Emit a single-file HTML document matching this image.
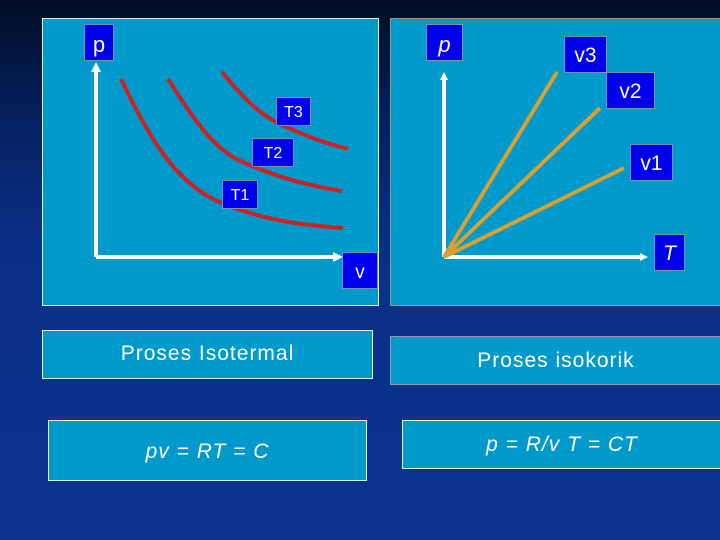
<!DOCTYPE html>
<html><head><style>
body{margin:0;width:720px;height:540px;overflow:hidden;background:linear-gradient(180deg,#020d24 0%,#061f5c 20%,#0a2f86 45%,#0b3390 100%);font-family:"Liberation Sans",sans-serif;position:relative}
.b{position:absolute;box-sizing:border-box}
.lab{background:#0000ee;color:#fff;border:1px solid #7f8fb0;font-size:19px;text-align:center;box-sizing:border-box;position:absolute}
.box{position:absolute;box-sizing:border-box;background:#0099cc;border:1.5px solid #e8f0ff;color:#fff;font-size:21px;text-align:center;letter-spacing:1px}
</style></head><body>
<div class="b" style="left:42px;top:18px;width:337px;height:288px;background:#0099cc;border:1.5px solid #e6eef5"></div>
<div class="b" style="left:390px;top:18px;width:332px;height:288px;background:#0099cc;border:1.5px solid #9a9a80"></div>
<svg width="720" height="540" style="position:absolute;left:0;top:0">
<g stroke="#fff" stroke-width="4" fill="none"><path d="M96 257 V70 M96 257 H334"/><path d="M444 257 V78 M444 257 H640"/></g>
<g fill="#fff"><path d="M96 62 L91 72 H101Z"/><path d="M343 257 L333 252 V262Z"/><path d="M444 72 L440 80 H448Z"/><path d="M648 257 L640 253 V261Z"/></g>
<g stroke="#cc2222" stroke-width="4" fill="none">
<path d="M121 79 C150 140 175 180 215 200 C260 220 300 225 343 228"/>
<path d="M168 79 C200 130 220 155 250 165 C280 178 310 186 342 191"/>
<path d="M222 72 C245 100 260 115 282 125 C305 136 325 143 348 149"/>
</g>
<g stroke="#d9a030" stroke-width="4"><path d="M444 257 L557 72"/><path d="M444 257 L600 108"/><path d="M444 257 L624 168"/></g>
</svg>
<div class="lab" style="left:84px;top:24px;width:30px;height:37px;line-height:40px;font-size:22px">p</div>
<div class="lab" style="left:276px;top:97px;width:35px;height:29px;line-height:29px;font-size:16px">T3</div>
<div class="lab" style="left:252px;top:138px;width:42px;height:29px;line-height:29px;font-size:16px">T2</div>
<div class="lab" style="left:222px;top:180px;width:36px;height:29px;line-height:29px;font-size:16px">T1</div>
<div class="lab" style="left:342px;top:252px;width:36px;height:37px;line-height:40px;font-size:19px">v</div>
<div class="lab" style="left:426px;top:24px;width:37px;height:37px;line-height:40px;font-size:22px;font-style:italic">p</div>
<div class="lab" style="left:564px;top:36px;width:43px;height:37px;line-height:37px;font-size:21px">v3</div>
<div class="lab" style="left:606px;top:72px;width:49px;height:37px;line-height:37px;font-size:21px">v2</div>
<div class="lab" style="left:630px;top:144px;width:43px;height:37px;line-height:37px;font-size:21px">v1</div>
<div class="lab" style="left:654px;top:234px;width:31px;height:37px;line-height:37px;font-size:21px;font-style:italic">T</div>
<div class="box" style="left:42px;top:330px;width:331px;height:49px;line-height:46px">Proses Isotermal</div>
<div class="box" style="left:390px;top:336px;width:332px;height:49px;line-height:48px;border-color:#9a9a9a">Proses isokorik</div>
<div class="box" style="left:48px;top:420px;width:319px;height:61px;line-height:62px;font-style:italic">pv = RT = C</div>
<div class="box" style="left:402px;top:420px;width:320px;height:49px;line-height:48px;font-style:italic">p = R/v T = CT</div>
</body></html>
